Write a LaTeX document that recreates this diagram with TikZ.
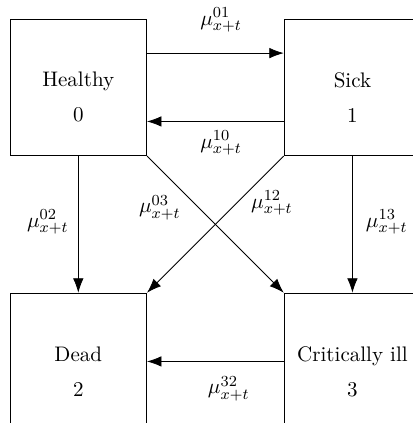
\documentclass[tikz,border=0pt,11pt]{standalone}
\usepackage{amsmath}
\usetikzlibrary{arrows.meta,positioning}

\tikzset{
	state/.style={draw,minimum size=2.5cm,inner sep=0pt},
	rate/.style={inner sep=1pt},
}

\begin{document}
\begin{tikzpicture}[>={Latex[length=7.5pt,width=5.5pt]}]
			\useasboundingbox (-1.432,1.596) rectangle (6.104,-6.14);
			\node[state,label={[yshift=-5.2pt,align=center]center:Healthy\\[4.6pt]0}] (h) at (0,0) {};
			\node[state,right=2.5cm of h,label={[yshift=-5.2pt,align=center]center:Sick\\[4.6pt]1}] (s) {};
			\node[state,below=2.5cm of h,label={[yshift=-5.2pt,align=center]center:Dead\\[4.6pt]2}] (d) {};
			\node[state,right=2.5cm of d,label={[yshift=-5.2pt,align=center]center:Critically ill\\[4.6pt]3}] (c) {};
			\draw [->] ([yshift=0.625cm]h.east) -- ([yshift=0.625cm]s.west);
			\draw [->] ([yshift=-0.625cm]s.west) -- ([yshift=-0.625cm]h.east);
			\draw [->] (h.south) -- (d.north);
			\draw [->] (s.south) -- (c.north);
			\draw [->] (h.south east) -- (c.north west);
			\draw [->] (s.south west) -- (d.north east);
			\draw [->] (c.west) -- (d.east);
			\node[rate] (m01) at (2.61,1.235) {$\mu_{x+t}^{01}$};
			\node[rate] (m10) at (2.61,-1.015) {$\mu_{x+t}^{10}$};
			\node[rate] (m02) at (-0.558,-2.46) {$\mu_{x+t}^{02}$};
			\node[rate] (m03) at (1.49,-2.20) {$\mu_{x+t}^{03}$};
			\node[rate] (m12) at (3.54,-2.11) {$\mu_{x+t}^{12}$};
			\node[rate] (m13) at (5.64,-2.46) {$\mu_{x+t}^{13}$};
			\node[rate] (m32) at (2.75,-5.51) {$\mu_{x+t}^{32}$};
	\end{tikzpicture}
\end{document}
